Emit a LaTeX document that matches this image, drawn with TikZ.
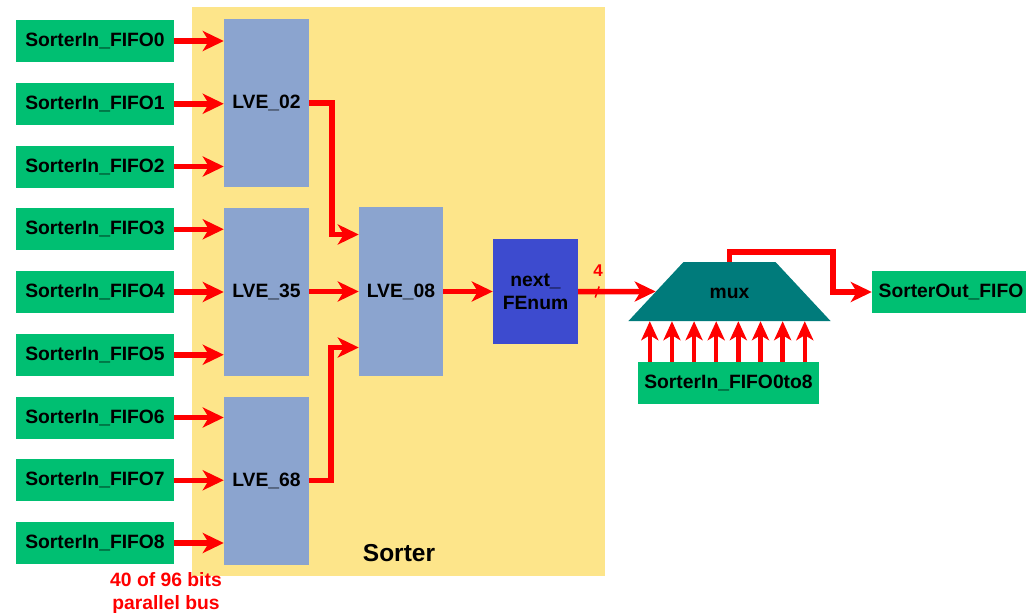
\documentclass[tikz,border=0pt]{standalone}
\usepackage{fontspec}
\setmainfont{Liberation Sans}
\usetikzlibrary{arrows.meta, positioning, shapes.geometric, calc}
\definecolor{cyellow}{HTML}{FDE58A}
\definecolor{cgreen}{HTML}{00BF72}
\definecolor{clve}{HTML}{8BA4CF}
\definecolor{cfenum}{HTML}{3D4BCF}
\definecolor{cmux}{HTML}{007B7B}
\definecolor{cbus}{HTML}{FF0000}
\tikzset{
  every picture/.style={font=\bfseries\fontsize{19.3}{23}\selectfont},
  fifo/.style={fill=cgreen, minimum width=158pt, minimum height=42pt, inner sep=0pt},
  block/.style={fill=#1, minimum width=85pt, inner sep=0pt, align=center},
  block/.default=clve,
  bus/.style={-{Stealth[length=21pt, width=20pt, inset=6pt]}, draw=cbus, line width=5.5pt},
  sel/.style={-{Stealth[length=19pt, width=17pt, inset=5pt]}, draw=cbus, line width=4.5pt},
  note/.style={text=cbus, align=center},
}

\begin{document}
\begin{tikzpicture}[x=1pt, y=-1pt]
  \useasboundingbox (0,0) rectangle (1026,613);
  % sorter block
  \fill[cyellow] (192,7) rectangle (605,576);
  \node[font=\bfseries\fontsize{24.5}{28}\selectfont] (sorter) at (399,553) {Sorter};
  % input fifos
  \foreach \i in {0,...,8}
    \node[fifo] (fifo\i) at (95,{41+62.75*\i}) {SorterIn\_FIFO\i};
  \node[note] (buslbl) at (166,593) {40 of 96 bits\\parallel bus};
  % first stage
  \node[block, minimum height=168pt] (lve02) at (266.5,103) {LVE\_02};
  \node[block, minimum height=168pt] (lve35) at (266.5,291.5) {LVE\_35};
  \node[block, minimum height=168pt] (lve68) at (266.5,480.5) {LVE\_68};
  \foreach \i/\l in {0/lve02,1/lve02,2/lve02,3/lve35,4/lve35,5/lve35,6/lve68,7/lve68,8/lve68}
    \draw[bus] (fifo\i.east) -- (fifo\i.east -| \l.west);
  % second stage
  \node[block, minimum width=84pt, minimum height=169pt] (lve08) at (401,291.5) {LVE\_08};
  \draw[bus] (lve02.east) -- ++(23,0) |- ($(lve08.west)+(0,-57)$);
  \draw[bus] (lve35) -- (lve08);
  \draw[bus] (lve68.east) -- ++(22,0) |- ($(lve08.west)+(0,56)$);
  \node[block=cfenum, minimum height=105pt] (fenum) at (535.5,291.5) {next\_\\FEnum};
  \draw[bus] (lve08) -- (fenum);
  % mux
  \node[trapezium, trapezium angle=47, fill=cmux, text width=40pt, align=center,
    text height=14pt, text depth=0pt, inner xsep=26pt, inner ysep=22.5pt] (mux) at (729.5,291.5) {mux};
  \draw[bus] (fenum.east) -- (mux);
  \draw[cbus, line width=1.5pt] ($(fenum.east)+(17,6)$) -- ++(4,-11);
  \node[note, font=\bfseries\fontsize{17}{19}\selectfont] (buswidth) at (598,271) {4};
  \node[fifo, minimum width=181pt] (fifoall) at (728.5,383) {SorterIn\_FIFO0to8};
  \foreach \k in {0,...,7} {
    \path (fifoall.north west) ++({12+22.14*\k},0) coordinate (sel\k);
    \draw[sel] (sel\k) -- (sel\k |- mux.south);
  }
  % output
  \node[fifo] (out) at (951,292) {SorterOut\_FIFO};
  \coordinate (muxturn) at (833,252);
  \draw[bus] (mux.north) |- (muxturn) |- (out.west);
\end{tikzpicture}
\end{document}
